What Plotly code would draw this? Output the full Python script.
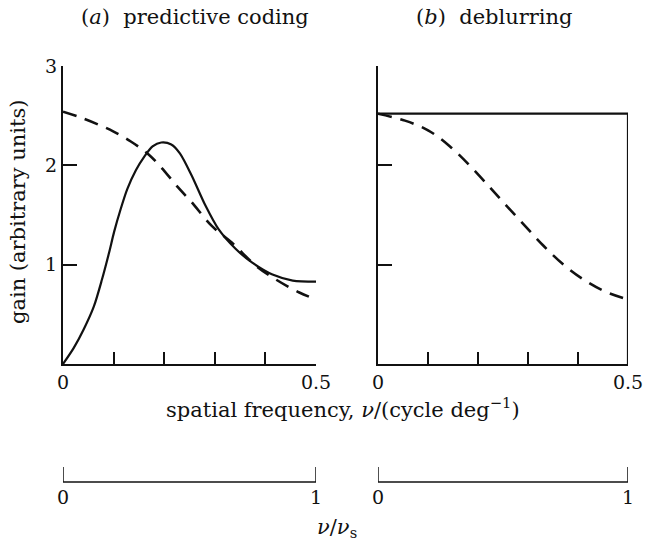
import plotly.graph_objects as go

# ---- data ----
# (a) predictive coding
freq_a_solid = [0, 0.021, 0.041, 0.061, 0.077, 0.091, 0.101, 0.114, 0.127, 0.144, 0.161,
                0.177, 0.194, 0.214, 0.231, 0.254, 0.281, 0.307, 0.341, 0.374, 0.414,
                0.454, 0.5]
gain_a_solid = [0, 0.16, 0.35, 0.58, 0.85, 1.12, 1.33, 1.56, 1.76, 1.95, 2.09,
                2.19, 2.23, 2.21, 2.12, 1.90, 1.60, 1.36, 1.16, 1.02, 0.90,
                0.84, 0.83]
freq_a_dash = [0, 0.03, 0.07, 0.10, 0.134, 0.167, 0.194, 0.227, 0.254, 0.294, 0.334,
               0.381, 0.421, 0.467, 0.5]
gain_a_dash = [2.54, 2.49, 2.41, 2.34, 2.24, 2.12, 1.98, 1.78, 1.63, 1.39, 1.22,
               0.99, 0.85, 0.72, 0.65]
# (b) deblurring
freq_b_solid = [0, 0.5, 0.5]
gain_b_solid = [2.52, 2.52, 0]
freq_b_dash = [0, 0.054, 0.101, 0.144, 0.187, 0.227, 0.254, 0.294, 0.331, 0.371,
               0.411, 0.454, 0.5]
gain_b_dash = [2.52, 2.45, 2.35, 2.19, 1.98, 1.76, 1.61, 1.39, 1.19, 1.00,
               0.85, 0.73, 0.65]

x_ticks = [0, 0.1, 0.2, 0.3, 0.4, 0.5]
x_ticktext = ["0", "", "", "", "", "0.5"]
y_ticks = [1, 2, 3]
y_ticktext = ["1", "2", "3"]
nu_s = 0.5                 # sampling frequency in cycle/deg
nu_ratio_ticks = [0, 1]    # nu / nu_s

FONT = "DejaVu Serif"
BLACK = "#111111"

fig = go.Figure()
fig.add_trace(go.Scatter(x=freq_a_solid, y=gain_a_solid, mode="lines", line_shape="spline",
                         line=dict(color=BLACK, width=2.2, smoothing=0.8), xaxis="x", yaxis="y"))
fig.add_trace(go.Scatter(x=freq_a_dash, y=gain_a_dash, mode="lines", line_shape="spline",
                         line=dict(color=BLACK, width=2.6, dash="14px,9px"), xaxis="x", yaxis="y"))
fig.add_trace(go.Scatter(x=freq_b_solid, y=gain_b_solid, mode="lines",
                         line=dict(color=BLACK, width=2.2), xaxis="x2", yaxis="y2", cliponaxis=False))
fig.add_trace(go.Scatter(x=freq_b_dash, y=gain_b_dash, mode="lines", line_shape="spline",
                         line=dict(color=BLACK, width=2.6, dash="14px,9px"), xaxis="x2", yaxis="y2"))

axis_common = dict(showline=True, linecolor=BLACK, linewidth=2, showgrid=False, zeroline=False,
                   ticks="inside", tickcolor=BLACK, tickwidth=1.5, automargin=False,
                   tickfont=dict(family=FONT, size=19, color=BLACK))

fig.update_layout(
    width=645, height=545,
    margin=dict(l=63, r=17, t=66, b=181, autoexpand=False),
    paper_bgcolor="white", plot_bgcolor="white",
    showlegend=False,
    xaxis=dict(domain=[0, 0.4478], range=[0, 0.5], tickvals=x_ticks, ticktext=x_ticktext,
               ticklen=12, anchor="y", **axis_common),
    yaxis=dict(domain=[0, 1], range=[0, 3], tickvals=y_ticks, ticktext=y_ticktext,
               ticklen=14, anchor="x", **axis_common),
    xaxis2=dict(domain=[0.5575, 1], range=[0, 0.5], tickvals=x_ticks, ticktext=x_ticktext,
                ticklen=12, anchor="y2", **axis_common),
    yaxis2=dict(domain=[0, 1], range=[0, 3], tickvals=y_ticks, ticktext=["", "", ""],
                ticklen=14, anchor="x2", **axis_common),
)

# nu / nu_s brackets below each panel
y_line, y_tick = -0.396, -0.3456
for xr in ["x", "x2"]:
    xs = [t * nu_s for t in nu_ratio_ticks]
    fig.add_shape(type="line", xref=xr, yref="paper", x0=xs[0], x1=xs[-1], y0=y_line, y1=y_line,
                  line=dict(color=BLACK, width=1.5))
    for xv, t in zip(xs, nu_ratio_ticks):
        fig.add_shape(type="line", xref=xr, yref="paper", x0=xv, x1=xv, y0=y_line, y1=y_tick,
                      line=dict(color=BLACK, width=1.5))
        fig.add_annotation(xref=xr, yref="paper", x=xv, y=-0.4463, text=str(t), showarrow=False,
                           font=dict(family=FONT, size=19, color=BLACK),
                           xanchor="center", yanchor="middle")

ann_font = dict(family=FONT, size=21, color=BLACK)
def label(x, y, text, angle=0):
    fig.add_annotation(xref="paper", yref="paper", x=x, y=y, text=text, textangle=angle,
                       showarrow=False, font=ann_font, xanchor="center", yanchor="middle")

label(0.2336, 1.164, "(<i>a</i>)  predictive coding")
label(0.763, 1.164, "(<i>b</i>)  deblurring")
label(-0.0796, 0.51, "gain (arbitrary units)", angle=-90)
label(0.4956, -0.1477, "spatial frequency, <i>ν</i>/(cycle deg<sup>−1</sup>)")
label(0.485, -0.550, "<i>ν</i>/<i>ν</i><sub>s</sub>")

fig.write_html("out.html")
